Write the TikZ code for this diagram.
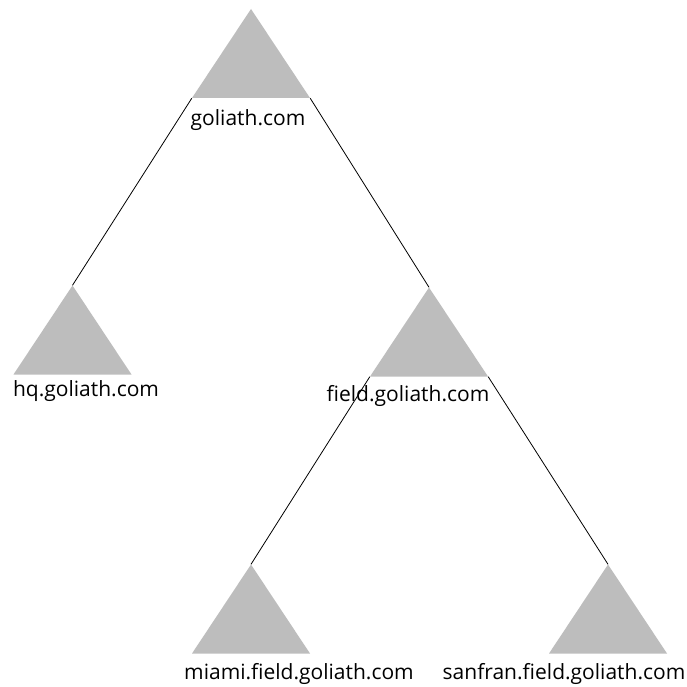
\documentclass[tikz,border=0pt]{standalone}
\usepackage{fontspec}
\setmainfont{Open Sans}
\definecolor{trigray}{RGB}{189,189,189}
\tikzset{
  zonetri/.style={
    minimum width=118pt, minimum height=89pt, inner sep=0pt, draw=none,
    path picture={\fill[trigray] (path picture bounding box.north)
      -- (path picture bounding box.south east)
      -- (path picture bounding box.south west) -- cycle;}
  },
  zonelabel/.style={font=\fontsize{21}{23}\selectfont, inner sep=0pt, anchor=center},
  zonelink/.style={draw=black, line width=0.8pt}
}
\begin{document}
\begin{tikzpicture}[x=1pt,y=-1pt]
\useasboundingbox[fill=white] (0,0) rectangle (687,687);
% domain triangles
\node[zonetri] (goliath) at (251,53.5) {};
\node[zonetri] (hq) at (72.5,330) {};
\node[zonetri] (field) at (429,332) {};
\node[zonetri] (miami) at (251,609) {};
\node[zonetri] (sanfran) at (608,609) {};
% domain names
\node[zonelabel] (lgoliath) at (248,120) {goliath.com};
\node[zonelabel] (lhq) at (86,391) {hq.goliath.com};
\node[zonelabel] (lfield) at (408,396) {field.goliath.com};
\node[zonelabel] (lmiami) at (299,674) {miami.field.goliath.com};
\node[zonelabel] (lsanfran) at (564,674) {sanfran.field.goliath.com};
% parent-child links
\draw[zonelink] (goliath.south west) -- (hq.north);
\draw[zonelink] (goliath.south east) -- (field.north);
\draw[zonelink] (field.south west) -- (miami.north);
\draw[zonelink] (field.south east) -- (sanfran.north);
\end{tikzpicture}
\end{document}
